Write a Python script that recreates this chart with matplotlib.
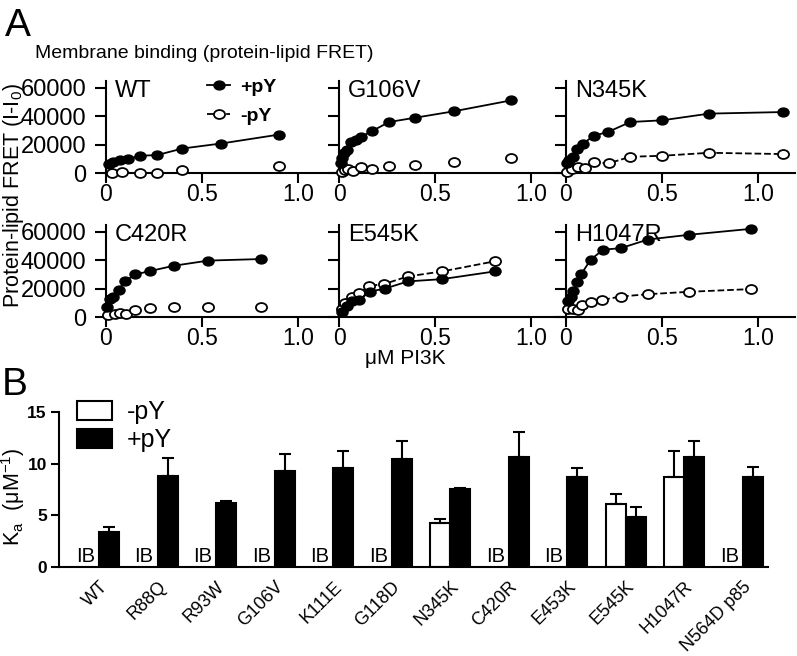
import numpy as np
import matplotlib
matplotlib.use("Agg")
import matplotlib.pyplot as plt
from matplotlib.path import Path
from matplotlib.lines import Line2D
from matplotlib.patches import Patch

plt.rcParams['font.family'] = ['Liberation Sans', 'DejaVu Sans']
plt.rcParams['mathtext.default'] = 'regular'

# ---- panel A: protein-lipid FRET titrations (uM PI3K vs FRET) ----
wt_x_plus = [0.017, 0.034, 0.072, 0.116, 0.176, 0.266, 0.397, 0.598, 0.9]
wt_y_plus = [6300, 7700, 9300, 10000, 12300, 12800, 17400, 20900, 27200]
wt_x_minus = [0.029, 0.081, 0.176, 0.266, 0.397, 0.9]
wt_y_minus = [0, 700, 500, 0, 2300, 5300]

g106v_x_plus = [0.009, 0.014, 0.026, 0.044, 0.061, 0.088, 0.114, 0.17, 0.26, 0.395, 0.596, 0.895]
g106v_y_plus = [7000, 10500, 14000, 16300, 22100, 23300, 25600, 29500, 36000, 39000, 43500, 51200]
g106v_x_minus = [0.014, 0.032, 0.049, 0.074, 0.114, 0.17, 0.26, 0.395, 0.596, 0.895]
g106v_y_minus = [1200, 2300, 3000, 1600, 4650, 3000, 5350, 5800, 7700, 10500]

n345k_x_plus = [0.003, 0.017, 0.035, 0.056, 0.09, 0.143, 0.22, 0.334, 0.5, 0.744, 1.127]
n345k_y_plus = [7000, 9300, 11600, 17400, 20900, 26300, 29100, 36000, 37200, 41900, 43000]
n345k_x_minus = [0.007, 0.03, 0.064, 0.099, 0.143, 0.221, 0.334, 0.5, 0.744, 1.127]
n345k_y_minus = [700, 3000, 4650, 4000, 7700, 7000, 11600, 12300, 14400, 13500]

c420r_x_plus = [0.007, 0.021, 0.035, 0.065, 0.1, 0.152, 0.23, 0.353, 0.531, 0.806]
c420r_y_plus = [7500, 12700, 13900, 19300, 25400, 30100, 32500, 36200, 39800, 40900]
c420r_x_minus = [0.012, 0.047, 0.073, 0.105, 0.152, 0.23, 0.353, 0.531, 0.806]
c420r_y_minus = [1400, 2400, 2800, 2400, 5200, 6400, 7100, 7100, 7500]

e545k_x_plus = [0.014, 0.04, 0.066, 0.104, 0.162, 0.24, 0.358, 0.536, 0.809]
e545k_y_plus = [3800, 8000, 11500, 12200, 18100, 20200, 25200, 26800, 32200]
e545k_x_minus = [0.017, 0.031, 0.066, 0.104, 0.157, 0.233, 0.358, 0.536, 0.809]
e545k_y_minus = [5600, 9900, 14600, 16900, 22100, 23300, 28700, 32200, 39300]

h1047r_x_plus = [0.01, 0.024, 0.038, 0.055, 0.08, 0.128, 0.194, 0.284, 0.426, 0.638, 0.962]
h1047r_y_plus = [11500, 14600, 18600, 24500, 30400, 40500, 47500, 48500, 54600, 57900, 62100]
h1047r_x_minus = [0.01, 0.038, 0.062, 0.085, 0.128, 0.189, 0.284, 0.426, 0.638, 0.962]
h1047r_y_minus = [5600, 6100, 5200, 8500, 10400, 12200, 14600, 16200, 17900, 19800]

# ---- panel B: Ka values ----
mutants = ["WT", "R88Q", "R93W", "G106V", "K111E", "G118D", "N345K",
           "C420R", "E453K", "E545K", "H1047R", "N564D p85"]
ka_plus = [3.4, 8.8, 6.15, 9.3, 9.6, 10.5, 7.55, 10.6, 8.75, 4.85, 10.65, 8.7]
ka_plus_err = [0.5, 1.75, 0.25, 1.6, 1.65, 1.65, 0.1, 2.5, 0.8, 1.0, 1.55, 1.0]
nan = np.nan
ka_minus = [nan, nan, nan, nan, nan, nan, 4.3, nan, nan, 6.1, 8.75, nan]
ka_minus_err = [nan, nan, nan, nan, nan, nan, 0.35, nan, nan, 1.0, 2.45, nan]

# slightly wide circle, like the scanned figure
circ = Path.unit_circle()
oval = Path(circ.vertices * [1.25, 1.0], circ.codes)

W, H = 797, 656
fig = plt.figure(figsize=(W / 100, H / 100), dpi=100)

panels = [
    ("WT", wt_x_plus, wt_y_plus, wt_x_minus, wt_y_minus, False),
    ("G106V", g106v_x_plus, g106v_y_plus, g106v_x_minus, g106v_y_minus, False),
    ("N345K", n345k_x_plus, n345k_y_plus, n345k_x_minus, n345k_y_minus, True),
    ("C420R", c420r_x_plus, c420r_y_plus, c420r_x_minus, c420r_y_minus, False),
    ("E545K", e545k_x_plus, e545k_y_plus, e545k_x_minus, e545k_y_minus, True),
    ("H1047R", h1047r_x_plus, h1047r_y_plus, h1047r_x_minus, h1047r_y_minus, True),
]
lefts = [106, 339, 566]
bottoms = [173.3, 317.3]
aw, ah = 229, 92.6

for k, (name, xp, yp, xm, ym, dashed) in enumerate(panels):
    r, c = divmod(k, 3)
    ax = fig.add_axes([lefts[c] / W, 1 - bottoms[r] / H, aw / W, ah / H])
    ax.set_facecolor('none')
    ax.plot(xm, ym, linestyle='--' if dashed else 'none', color='black', lw=1.3,
            marker=oval, ms=8, mfc='white', mec='black', mew=1.3, clip_on=False, zorder=3)
    ax.plot(xp, yp, '-', color='black', lw=1.3, marker=oval, ms=8,
            mfc='black', mec='black', clip_on=False, zorder=4)
    ax.set_xlim(0, 1.19)
    ax.set_ylim(0, 65000)
    ax.set_xticks([0, 0.5, 1.0])
    ax.set_xticklabels(["0", "0.5", "1.0"])
    ax.set_yticks([0, 20000, 40000, 60000])
    if c != 0:
        ax.set_yticklabels([])
    for s in ('top', 'right'):
        ax.spines[s].set_visible(False)
    for s in ('left', 'bottom'):
        ax.spines[s].set_linewidth(1.5)
    ax.tick_params(axis='x', direction='out', length=7, width=1.5, labelsize=16.5, pad=0)
    ax.tick_params(axis='y', direction='out', length=8, width=1.5, labelsize=17, pad=6)
    ax.text(0.04, 1.01, name, transform=ax.transAxes, fontsize=17, va='top', ha='left')
    if k == 0:
        handles = [Line2D([], [], color='black', lw=1.3, marker=oval, ms=8, mfc='black', mec='black'),
                   Line2D([], [], color='black', lw=1.3, ls='--', marker=oval, ms=8, mfc='white',
                          mec='black', mew=1.3)]
        leg = ax.legend(handles, ["+pY", "-pY"], loc='upper left', frameon=False,
                        bbox_to_anchor=(207 / W, 1 - 78 / H), bbox_transform=fig.transFigure,
                        borderpad=0, borderaxespad=0, handlelength=1.2, handletextpad=0.5,
                        labelspacing=0.6, prop={'size': 14, 'weight': 'bold'})

fig.text(0.006, 1 - 36 / H, "A", fontsize=28, va='baseline')
fig.text(35 / W, 1 - 58 / H, "Membrane binding (protein-lipid FRET)", fontsize=14, va='baseline')
fig.text(14 / W, 1 - 196 / H, "Protein-lipid FRET (I-I$_0$)", fontsize=15.5, rotation=90,
         va='center', ha='center')
fig.text(405 / W, 1 - 359 / H, "μM PI3K", fontsize=15, va='center', ha='center')

# ---- panel B ----
fig.text(0.002, 1 - 395 / H, "B", fontsize=28, va='baseline')
axb = fig.add_axes([59.3 / W, 1 - 567 / H, (768 - 59.3) / W, 155 / H])
x = np.arange(len(mutants))
bw = 0.342
ekw = dict(ecolor='black', elinewidth=1.5, capsize=4, capthick=1.5)
zeros = np.zeros(len(mutants))
axb.bar(x - bw / 2, ka_minus, bw, color='white', edgecolor='black', linewidth=1.5,
        yerr=[zeros, ka_minus_err], error_kw=ekw, label="-pY")
axb.bar(x + bw / 2, ka_plus, bw, color='black', edgecolor='black', linewidth=1.5,
        yerr=[zeros, ka_plus_err], error_kw=ekw, label="+pY")
for i, v in enumerate(ka_minus):
    if np.isnan(v):
        axb.text(i - bw / 2 - 0.06, 0.05, "IB", fontsize=14.5, ha='center', va='bottom')
axb.set_xlim(-0.68, 11.43)
axb.set_ylim(0, 15)
axb.set_yticks([0, 5, 10, 15])
axb.set_xticks(x)
axb.set_xticklabels(mutants, rotation=45, ha='right', rotation_mode='anchor', fontsize=13)
for s in ('top', 'right'):
    axb.spines[s].set_visible(False)
for s in ('left', 'bottom'):
    axb.spines[s].set_linewidth(1.5)
axb.tick_params(axis='y', direction='out', length=6, width=1.5, labelsize=12.5, pad=3)
axb.tick_params(axis='x', length=0, pad=8)
for t in axb.get_yticklabels():
    t.set_fontweight('bold')
fig.text(13 / W, 1 - 497 / H, "K$_a$  (μM$^{-1}$)", fontsize=15.5, rotation=90,
         va='center', ha='center')
axb.legend(handles=[Patch(facecolor='white', edgecolor='black', linewidth=1.5),
                    Patch(facecolor='black', edgecolor='black', linewidth=1.5)],
           labels=["-pY", "+pY"], loc='upper left', frameon=False,
           bbox_to_anchor=(77 / W, 1 - 400 / H), bbox_transform=fig.transFigure,
           borderpad=0, borderaxespad=0, handlelength=1.4, handleheight=0.8,
           handletextpad=0.6, labelspacing=0.15, fontsize=18)

fig.savefig("out.png", dpi=100)
